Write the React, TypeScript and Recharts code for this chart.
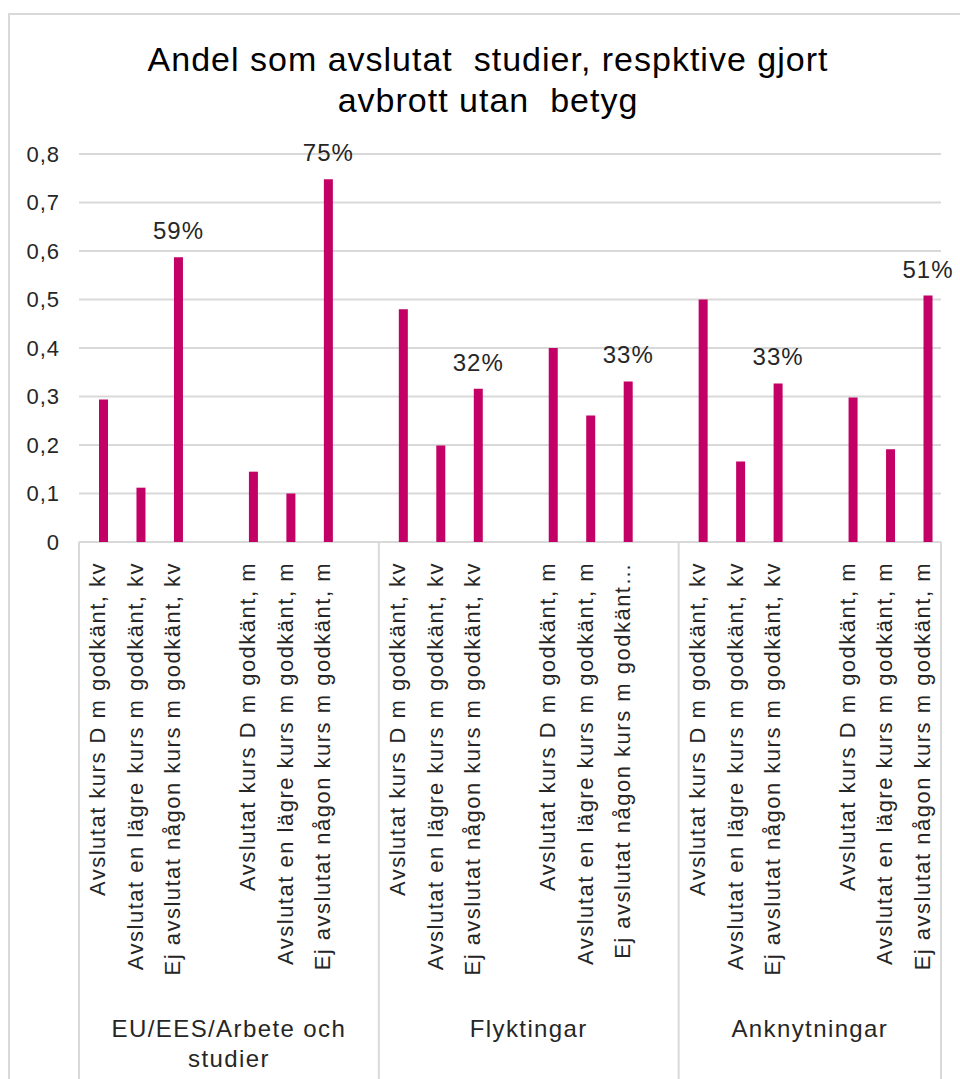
import React from "react";
import {
  Bar,
  BarChart,
  CartesianGrid,
  LabelList,
  XAxis,
  YAxis,
} from "recharts";

// Slots in chart order; "" are the empty gaps between sub-groups
const categories = [
  "Avslutat kurs D m godkänt, kv",
  "Avslutat en lägre kurs m godkänt, kv",
  "Ej avslutat någon kurs m godkänt, kv",
  "",
  "Avslutat kurs D m godkänt, m",
  "Avslutat en lägre kurs m godkänt, m",
  "Ej avslutat någon kurs m godkänt, m",
  "",
  "Avslutat kurs D m godkänt, kv",
  "Avslutat en lägre kurs m godkänt, kv",
  "Ej avslutat någon kurs m godkänt, kv",
  "",
  "Avslutat kurs D m godkänt, m",
  "Avslutat en lägre kurs m godkänt, m",
  "Ej avslutat någon kurs m godkänt…",
  "",
  "Avslutat kurs D m godkänt, kv",
  "Avslutat en lägre kurs m godkänt, kv",
  "Ej avslutat någon kurs m godkänt, kv",
  "",
  "Avslutat kurs D m godkänt, m",
  "Avslutat en lägre kurs m godkänt, m",
  "Ej avslutat någon kurs m godkänt, m",
];

const andel = [
  0.294, 0.112, 0.587, null, 0.145, 0.1, 0.748, null,
  0.48, 0.199, 0.316, null, 0.4, 0.261, 0.331, null,
  0.5, 0.166, 0.327, null, 0.298, 0.191, 0.508,
];

// bars that carry a data label
const labelled = [
  false, false, true, false, false, false, true, false,
  false, false, true, false, false, false, true, false,
  false, false, true, false, false, false, true,
];

const groupLines = [["EU/EES/Arbete och", "studier"], ["Flyktingar"], ["Anknytningar"]];
const groupSizes = [8, 8, 7];

const yTicks = [0, 0.1, 0.2, 0.3, 0.4, 0.5, 0.6, 0.7, 0.8];

const title = ["Andel som avslutat  studier, respktive gjort", "avbrott utan  betyg"];

const data = categories.map((name, i) => ({
  name,
  andel: andel[i],
  lbl: labelled[i] ? andel[i] : null,
}));

// slot index where each group starts
const starts = groupSizes.reduce<number[]>((acc, n, i) => [...acc, i === 0 ? 0 : acc[i - 1] + groupSizes[i - 1]], []);
const total = groupSizes.reduce((a, b) => a + b, 0);

const FONT = "'Liberation Sans', Arial, sans-serif";
const TEXT = "#262626";
const GRID = "#D9D9D9";
const BAR = "#C20066";
const SHIFT = 6; // bars sit a little right of their label in the original

const CategoryTick = ({ x, y, payload, index, width, visibleTicksCount }: any) => {
  const tx = x - SHIFT;
  const half = payload.offset || width / (2 * (visibleTicksCount || total));
  const g = starts.indexOf(index);
  const axisY = y - 20;
  return (
    <g>
      {payload.value ? (
        <text
          x={tx}
          y={y}
          transform={`rotate(-90, ${tx}, ${y})`}
          textAnchor="end"
          dy="0.35em"
          fill={TEXT}
          fontSize={22}
          letterSpacing={1.5}
          fontFamily={FONT}
        >
          {payload.value}
        </text>
      ) : null}
      {g >= 0 ? (
        <>
          <line x1={tx - half} x2={tx - half} y1={axisY} y2={axisY + 540} stroke={GRID} strokeWidth={2} />
          <text
            x={tx - half + groupSizes[g] * half}
            y={axisY + 495}
            textAnchor="middle"
            fill={TEXT}
            fontSize={24}
            letterSpacing={1.4}
            fontFamily={FONT}
          >
            {groupLines[g].map((line, k) => (
              <tspan key={k} x={tx - half + groupSizes[g] * half} dy={k === 0 ? 0 : 30}>
                {line}
              </tspan>
            ))}
          </text>
        </>
      ) : null}
      {index === total - 1 ? (
        <line x1={tx + half} x2={tx + half} y1={axisY} y2={axisY + 540} stroke={GRID} strokeWidth={2} />
      ) : null}
    </g>
  );
};

const PctLabel = ({ x, y, width, value }: any) => {
  if (value == null) return null;
  return (
    <text
      x={x + width / 2}
      y={y - 18}
      textAnchor="middle"
      fill={TEXT}
      fontSize={24}
      letterSpacing={1}
      fontFamily={FONT}
    >
      {Math.round(value * 100)}%
    </text>
  );
};

export default function App() {
  return (
    <div
      style={{
        position: "absolute",
        left: 0,
        top: 0,
        width: 960,
        height: 1079,
        overflow: "hidden",
        background: "#fff",
        fontFamily: FONT,
      }}
    >
      <div
        style={{
          position: "absolute",
          left: 8,
          top: 13,
          width: 1000,
          height: 1100,
          border: `2px solid ${GRID}`,
        }}
      />
      <div
        style={{
          position: "absolute",
          left: 88,
          top: 39,
          width: 800,
          textAlign: "center",
          fontSize: 34,
          lineHeight: "41px",
          letterSpacing: 1,
          color: "#000",
          whiteSpace: "pre",
        }}
      >
        {title[0]}
        <br />
        {title[1]}
      </div>
      <div style={{ position: "absolute", left: 0, top: 0 }}>
        <BarChart
          width={960}
          height={1079}
          data={data}
          margin={{ top: 154, right: 19, left: 9, bottom: 536 }}
          barSize={9}
        >
          <CartesianGrid vertical={false} stroke={GRID} strokeWidth={2} />
          <YAxis
            domain={[0, 0.8]}
            ticks={yTicks}
            width={70}
            axisLine={false}
            tickLine={false}
            tickSize={0}
            tickMargin={19}
            tickFormatter={(v: number) => (v === 0 ? "0" : v.toFixed(1).replace(".", ","))}
            tick={{ fill: TEXT, fontSize: 22, fontFamily: FONT, letterSpacing: 1 }}
          />
          <XAxis
            dataKey="name"
            height={1}
            interval={0}
            axisLine={false}
            tickLine={false}
            tickSize={0}
            tickMargin={20}
            padding={{ left: SHIFT, right: -SHIFT }}
            tick={<CategoryTick />}
          />
          <Bar dataKey="andel" fill={BAR} isAnimationActive={false}>
            <LabelList dataKey="lbl" content={<PctLabel />} />
          </Bar>
        </BarChart>
      </div>
    </div>
  );
}
